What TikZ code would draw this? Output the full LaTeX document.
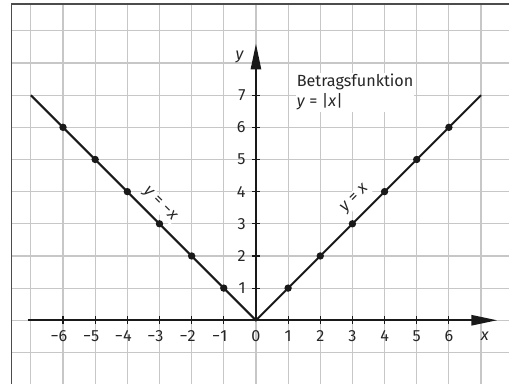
\documentclass[tikz,border=0pt]{standalone}
\usepackage{fontspec}
\setmainfont{Fira Sans}
\usetikzlibrary{arrows.meta}
\tikzset{gridline/.style = {draw = black!22, line width = 1pt}}
\tikzset{frameline/.style = {draw = black!70, line width = 1.6pt}}
\tikzset{axis/.style = {draw = black!90, line width = 1.5pt, -{Triangle[length = 0.8cm, width = 0.32cm]}}}
\tikzset{tick/.style = {draw = black!90, line width = 1pt}}
\tikzset{graph/.style = {draw = black!90, line width = 1.8pt}}
\tikzset{dot/.style = {shape = circle, fill = black!90, inner sep = 0pt, minimum size = 0.23cm}}
\tikzset{label/.style = {font = \fontsize{14.3}{18}\selectfont, inner sep = 1pt, text = black!85}}
\tikzset{linelabel/.style = {label, fill = white}}

\begin{document}
\begin{tikzpicture}
	\useasboundingbox (-7.96, -1.98) rectangle (7.87, 9.96);
	\fill[white] (-7.96, -1.98) rectangle (7.87, 9.96);

	% grid and frame
	\draw[gridline] (-7.6, -1.98) grid (7.87, 9.84);
	\draw[frameline] (-7.6, -1.98) -- (-7.6, 9.84) -- (7.87, 9.84);

	% axes
	\coordinate (o) at (0, 0);
	\coordinate (xstart) at (-7.1, 0);
	\coordinate (xend) at (7.5, 0);
	\coordinate (yend) at (0, 8.6);
	\draw[axis] (xstart) to (xend);
	\draw[axis] (o) to (yend);

	\foreach \i in {1, ..., 6} {
		\draw[tick] (\i, 0.12) -- (\i, -0.12);
		\draw[tick] (-\i, 0.12) -- (-\i, -0.12);
		\node[label] (xr\i) at (\i, -0.5) {\i};
		\node[label] (xl\i) at (-\i, -0.5) {\llap{−}\i};
	}
	\foreach \i in {1, ..., 7} {
		\draw[tick] (-0.12, \i) -- (0.12, \i);
		\node[label, anchor = east] (yt\i) at (-0.28, \i) {\i};
	}
	\node[label] (x0) at (0, -0.5) {0};
	\node[label] (xname) at (7.12, -0.5) {\textit{x}};
	\node[label] (yname) at (-0.5, 8.19) {\textit{y}};

	% graph of |x|
	\coordinate (gl) at (-7, 7);
	\coordinate (gr) at (7, 7);
	\draw[graph] (gl) -- (o) -- (gr);
	\foreach \i in {1, ..., 6} {
		\node[dot] (pr\i) at (\i, \i) {};
		\node[dot] (pl\i) at (-\i, \i) {};
	}

	\node[linelabel, rotate = -45] (lminus) at (-3.0, 3.6) {\textit{y} = −\textit{x}};
	\node[linelabel, rotate = 45] (lplus) at (3.08, 3.78) {\textit{y} = \textit{x}};
	\node[linelabel, anchor = north west, align = left] (title) at (1.23, 7.7)
		{Betragsfunktion\\\textit{y} = |\textit{x}|};
\end{tikzpicture}
\end{document}
